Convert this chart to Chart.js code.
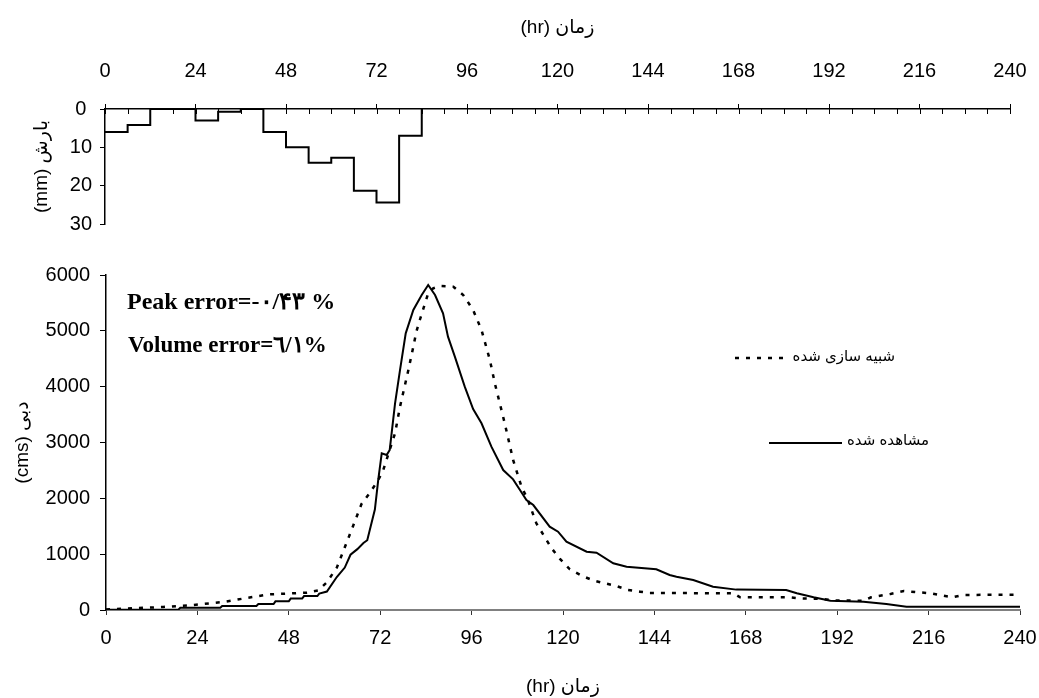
<!DOCTYPE html>
<html>
<head>
<meta charset="utf-8">
<script src="https://cdn.jsdelivr.net/npm/chart.js@4.4.1/dist/chart.umd.min.js"></script>
<style>
  body { margin: 0; background: #fff; }
  #wrap { position: relative; width: 1039px; height: 698px; }
  canvas { position: absolute; left: 0; }
  #rainChart { top: 0; }
  #flowChart { top: 250px; }
</style>
</head>
<body>
<div id="wrap">
  <canvas id="rainChart" width="1039" height="250"></canvas>
  <canvas id="flowChart" width="1039" height="448"></canvas>
</div>
<script>
// hyetograph, 6 hour blocks (value holds until next hour)
const rainHours = [0, 6, 12, 18, 24, 30, 36, 42, 48, 54, 60, 66, 72, 78, 84];
const rainDepth = [6, 4.2, 0, 0, 3, 0.7, 0, 6, 10, 14, 12.7, 21.3, 24.4, 7, 0];

// observed hydrograph
const obsHours = [0, 19, 19.5, 30, 30.5, 39.5, 40, 44, 44.5, 48, 48.5, 51.5, 52, 55.5, 56, 58,
  60.6, 62.7, 64.2, 66, 67.6, 68.6, 70.6, 71.5, 72.4, 73.7, 74.5, 75.9, 77.2, 78.7, 80.7,
  82.9, 84.6, 86.4, 88.5, 89.8, 91.6, 94.2, 96.4, 98.6, 101.2, 104.3, 106.9, 108.7, 110.4,
  112.2, 116.5, 118.7, 120.9, 126.2, 128.8, 133.2, 136.7, 144.5, 148, 149.8, 154.2, 159.4,
  165.5, 178.6, 181.4, 185.8, 190.2, 198.9, 204.9, 210.2, 240];
const obsFlow = [5, 5, 40, 40, 72, 72, 107, 107, 155, 155, 204, 204, 250, 250, 293, 330,
  590, 760, 990, 1090, 1200, 1250, 1800, 2340, 2806, 2776, 2866, 3702, 4298, 4955, 5373,
  5642, 5821, 5642, 5313, 4895, 4537, 4000, 3600, 3344, 2925, 2507, 2340, 2149, 1970,
  1880, 1492, 1403, 1224, 1045, 1027, 836, 776, 730, 627, 597, 537, 418,
  365, 358, 299, 227, 167, 149, 107, 60, 60];

// simulated hydrograph
const simHours = [0, 15, 22, 30.8, 36.9, 43, 49.2, 52.7, 55.7, 57.9, 60.6, 64.2, 67.1, 69.3,
  71.5, 72.8, 75.9, 77.2, 79.4, 80.7, 81.5, 82.4, 83.5, 84.6, 85.9, 87.7, 91.2, 93.8, 96.4,
  98.6, 100.8, 102.1, 103.4, 104.7, 106.9, 109.1, 110.8, 113, 117, 119.2, 121.8, 124.9,
  127.9, 131, 134, 137.1, 140.2, 142.8, 145.4, 158.5, 164.8, 166.5, 179.6, 182, 188, 191,
  199, 200.9, 206, 209.5, 216.5, 222.2, 225, 232, 240];
const simFlow = [10, 54, 84, 143, 215, 281, 299, 311, 352, 490, 758, 1385, 1900, 2100,
  2330, 2507, 3165, 3641, 4298, 4716, 4985, 5194, 5432, 5672, 5761, 5803, 5791, 5642, 5373,
  5015, 4478, 4060, 3702, 3344, 2687, 2209, 1970, 1553, 1105, 915, 729, 615,
  530, 478, 430, 358, 328, 305, 305, 300, 299, 227, 227, 209, 200, 170,
  167, 227, 287, 340, 299, 227, 269, 272, 272];

const hourTicks = [0, 24, 48, 72, 96, 120, 144, 168, 192, 216, 240];

const FONT = "'Liberation Sans', 'DejaVu Sans', sans-serif";
Chart.defaults.font.family = FONT;
Chart.defaults.color = '#000';

function pairs(xs, ys) {
    return xs.map((x, i) => ({ x: x, y: ys[i] }));
}

// keep the plot edges where the layout padding puts them
function noOverflow(s) {
    s.paddingLeft = 0;
    s.paddingRight = 0;
}

// small ticks below the top time axis, every 6 hours
const minorTicks = {
    id: 'minorTicks',
    afterDraw(chart) {
        const scale = chart.scales.x;
        const ctx = chart.ctx;
        const y0 = chart.chartArea.top;
        ctx.save();
        ctx.strokeStyle = '#000';
        ctx.lineWidth = 1;
        for (let h = 0; h <= 240; h += 6) {
            const px = Math.round(scale.getPixelForValue(h)) + 0.5;
            ctx.beginPath();
            ctx.moveTo(px, y0);
            ctx.lineTo(px, y0 + 5);
            ctx.stroke();
        }
        ctx.restore();
    }
};

new Chart(document.getElementById('rainChart'), {
    type: 'line',
    data: {
        datasets: [{
            data: pairs(rainHours, rainDepth),
            stepped: true,
            borderColor: '#000',
            borderWidth: 2,
            pointRadius: 0,
            fill: false
        }]
    },
    options: {
        responsive: false,
        animation: false,
        devicePixelRatio: 1,
        layout: { padding: { left: 0, right: 29, top: 0, bottom: 26 } },
        plugins: { legend: { display: false }, tooltip: { enabled: false } },
        scales: {
            x: {
                type: 'linear',
                position: 'top',
                min: 0,
                max: 240,
                ticks: {
                    stepSize: 6,
                    autoSkip: false,
                    maxRotation: 0,
                    padding: 21,
                    font: { size: 20 },
                    callback: v => (v % 24 === 0 ? v : '')
                },
                grid: {
                    drawOnChartArea: false,
                    tickLength: 5,
                    tickColor: c => (c.tick && c.tick.value % 24 === 0 ? '#000' : 'rgba(0,0,0,0)')
                },
                border: { color: '#000', width: 1.5 },
                title: {
                    display: true,
                    text: '(hr) زمان',
                    font: { size: 19 },
                    padding: { top: 16, bottom: 0 }
                },
                afterFit: s => { s.height = 109; noOverflow(s); }
            },
            y: {
                min: 0,
                max: 30,
                reverse: true,
                ticks: { stepSize: 10, padding: 8, crossAlign: 'center', font: { size: 20 } },
                grid: { drawOnChartArea: false, tickLength: 5, tickColor: '#000' },
                border: { color: '#000', width: 1.5 },
                title: {
                    display: true,
                    text: '(mm) بارش',
                    font: { size: 19 },
                    padding: { top: 30, bottom: 0 }
                },
                afterFit: s => { s.width = 105; }
            }
        }
    },
    plugins: [minorTicks]
});

// error notes and the hand placed legend of the flow chart
const notes = {
    id: 'notes',
    afterDraw(chart) {
        const ctx = chart.ctx;
        ctx.save();
        ctx.fillStyle = '#000';
        ctx.textBaseline = 'alphabetic';
        ctx.textAlign = 'left';
        ctx.font = "bold 24px 'Liberation Serif', 'DejaVu Serif', serif";
        ctx.fillText('Peak error=-۰/۴۳ %', 127, 59);
        ctx.font = "bold 23px 'Liberation Serif', 'DejaVu Serif', serif";
        ctx.fillText('Volume error=٦/١%', 128, 102);

        ctx.font = "15px " + FONT;
        ctx.textBaseline = 'middle';
        ctx.strokeStyle = '#000';

        // simulated
        ctx.lineWidth = 2.5;
        ctx.setLineDash([4, 7]);
        ctx.beginPath();
        ctx.moveTo(735, 108);
        ctx.lineTo(787, 108);
        ctx.stroke();
        ctx.setLineDash([]);
        ctx.textAlign = 'right';
        ctx.fillText('شبیه سازی شده', 895, 107);

        // observed
        ctx.lineWidth = 2;
        ctx.beginPath();
        ctx.moveTo(769, 193);
        ctx.lineTo(842, 193);
        ctx.stroke();
        ctx.textAlign = 'left';
        ctx.fillText('مشاهده شده', 847, 191);
        ctx.restore();
    }
};

new Chart(document.getElementById('flowChart'), {
    type: 'line',
    data: {
        datasets: [{
            label: 'مشاهده شده',
            data: pairs(obsHours, obsFlow),
            borderColor: '#000',
            borderWidth: 2,
            pointRadius: 0,
            tension: 0,
            fill: false
        }, {
            label: 'شبیه سازی شده',
            data: pairs(simHours, simFlow),
            borderColor: '#000',
            borderWidth: 2.5,
            borderDash: [4, 7],
            pointRadius: 0,
            tension: 0,
            fill: false
        }]
    },
    options: {
        responsive: false,
        animation: false,
        devicePixelRatio: 1,
        layout: { padding: { left: 0, right: 19, top: 25, bottom: 0 } },
        plugins: { legend: { display: false }, tooltip: { enabled: false } },
        scales: {
            x: {
                type: 'linear',
                min: 0,
                max: 240,
                afterBuildTicks: s => { s.ticks = hourTicks.map(v => ({ value: v })); },
                ticks: { autoSkip: false, maxRotation: 0, padding: 11, font: { size: 20 } },
                grid: { drawOnChartArea: false, tickLength: 5, tickColor: '#333' },
                border: { color: '#808080', width: 2 },
                title: {
                    display: true,
                    text: '(hr) زمان',
                    font: { size: 19 },
                    padding: { top: 0, bottom: 0 }
                },
                afterFit: s => { s.height = 88; noOverflow(s); }
            },
            y: {
                min: 0,
                max: 6000,
                ticks: { stepSize: 1000, padding: 10, font: { size: 20 }, callback: v => String(v) },
                grid: { drawOnChartArea: false, tickLength: 6, tickColor: '#000' },
                border: { color: '#000', width: 1.5 },
                title: {
                    display: true,
                    text: '(cms) دبی',
                    font: { size: 19 },
                    padding: { top: 11, bottom: 0 }
                },
                afterFit: s => { s.width = 106; }
            }
        }
    },
    plugins: [notes]
});
</script>
</body>
</html>
